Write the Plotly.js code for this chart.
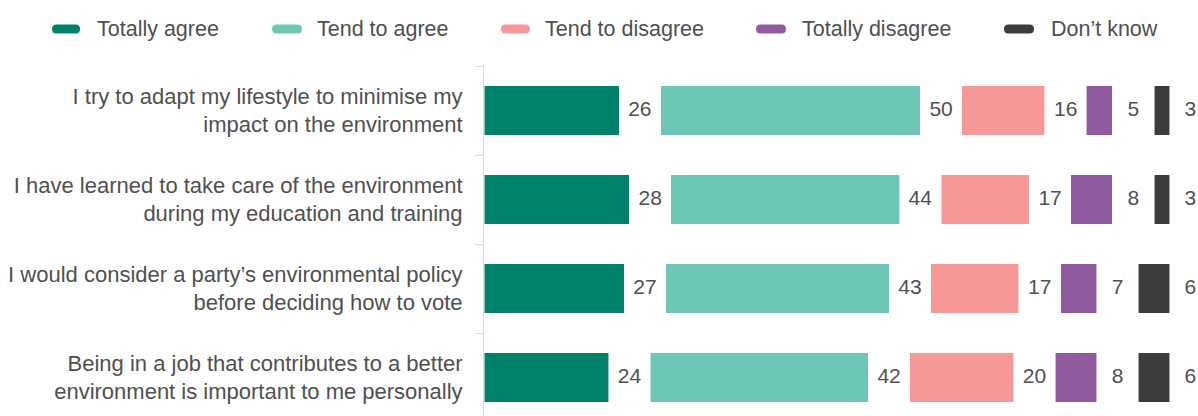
<!DOCTYPE html>
<html>
<head>
<meta charset="utf-8">
<script src="https://cdn.plot.ly/plotly-3.0.1.min.js"></script>
<style>html,body{margin:0;padding:0;background:#fff;}</style>
</head>
<body>
<div id="chart" style="width:1198px;height:416px;"></div>
<script>
// ---- data ----
const categories = [
  "I try to adapt my lifestyle to minimise my<br>impact on the environment",
  "I have learned to take care of the environment<br>during my education and training",
  "I would consider a party’s environmental policy<br>before deciding how to vote",
  "Being in a job that contributes to a better<br>environment is important to me personally"
];
const seriesNames = ["Totally agree", "Tend to agree", "Tend to disagree", "Totally disagree", "Don’t know"];
const totallyAgree    = [26, 28, 27, 24];
const tendToAgree     = [50, 44, 43, 42];
const tendToDisagree  = [16, 17, 17, 20];
const totallyDisagree = [5, 8, 7, 8];
const dontKnow        = [3, 3, 6, 6];

// ---- styles ----
const seriesValues = [totallyAgree, tendToAgree, tendToDisagree, totallyDisagree, dontKnow];
const colors = ["#00826A", "#6DC7B6", "#F59896", "#935B9F", "#3C3C3E"];
const GAP = 8;            // room (in axis units) left after each segment for its label
const textColor = "#505050";
const FONT = "Liberation Sans, Arial, sans-serif";

const W = 1198, H = 416, ML = 484, MT = 66;
const PW = W - ML, PH = H - MT;
const X = p => (p - ML) / PW;
const Y = p => (H - p) / PH;

const traces = [];
const cum = categories.map(() => 0);
seriesValues.forEach((vals, s) => {
  traces.push({
    type: "bar", orientation: "h", y: categories, x: vals,
    name: seriesNames[s],
    marker: {color: colors[s], line: {color: "rgba(255,255,255,0.55)", width: 1}},
    showlegend: false, hoverinfo: "x+name"
  });
  traces.push({
    type: "bar", orientation: "h", y: categories, x: vals.map(() => GAP),
    marker: {color: "rgba(0,0,0,0)"}, showlegend: false, hoverinfo: "skip"
  });
  traces.push({
    type: "scatter", mode: "text", y: categories,
    x: vals.map((v, i) => cum[i] + v + GAP / 2),
    text: vals.map(String), textposition: "middle center",
    textfont: {family: FONT, size: 21, color: textColor},
    cliponaxis: false, showlegend: false, hoverinfo: "skip"
  });
  vals.forEach((v, i) => { cum[i] += v + GAP; });
});

// manual legend (pill markers + labels)
const legendMarkers = [[52, 80], [272, 302], [501, 530], [756, 786], [1004, 1034]];
const legendTextX = [97, 317, 545, 802, 1051];
const legendY = 29;
const shapes = [], annotations = [];
function pill(x0, x1, yc, r) {
  return "M" + X(x0 + r) + "," + Y(yc - r) +
    " L" + X(x1 - r) + "," + Y(yc - r) +
    " Q" + X(x1) + "," + Y(yc - r) + " " + X(x1) + "," + Y(yc) +
    " Q" + X(x1) + "," + Y(yc + r) + " " + X(x1 - r) + "," + Y(yc + r) +
    " L" + X(x0 + r) + "," + Y(yc + r) +
    " Q" + X(x0) + "," + Y(yc + r) + " " + X(x0) + "," + Y(yc) +
    " Q" + X(x0) + "," + Y(yc - r) + " " + X(x0 + r) + "," + Y(yc - r) + " Z";
}
seriesNames.forEach((n, s) => {
  shapes.push({type: "path", xref: "paper", yref: "paper",
    path: pill(legendMarkers[s][0], legendMarkers[s][1], legendY, 4.5),
    fillcolor: colors[s], line: {width: 0}});
  annotations.push({xref: "paper", yref: "paper", x: X(legendTextX[s] - 2), y: Y(legendY),
    xanchor: "left", yanchor: "middle", showarrow: false, text: n,
    font: {family: FONT, size: 21.5, color: textColor}});
});

const layout = {
  width: W, height: H, autosize: false,
  margin: {l: ML, r: 0, t: MT, b: 0, pad: 0},
  paper_bgcolor: "#fff", plot_bgcolor: "#fff",
  barmode: "stack", bargap: 0.446,
  showlegend: false,
  font: {family: FONT, color: textColor},
  xaxis: {range: [0, 137.47], visible: false, fixedrange: true},
  yaxis: {
    type: "category", range: [3.4326, -0.5], fixedrange: true,
    showline: true, linecolor: "#d9d9d9", linewidth: 1,
    ticks: "outside", tickson: "boundaries", ticklen: 8, tickcolor: "#d9d9d9", tickwidth: 1,
    showgrid: false, zeroline: false, ticklabelstandoff: 16,
    tickfont: {family: FONT, size: 22, color: textColor}
  },
  shapes: shapes, annotations: annotations
};

Plotly.newPlot("chart", traces, layout, {displayModeBar: false, staticPlot: true});
</script>
</body>
</html>
